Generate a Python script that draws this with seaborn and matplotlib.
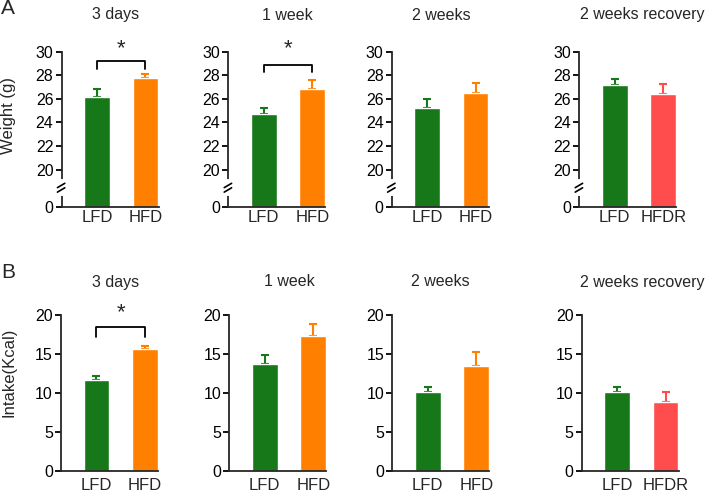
import matplotlib.pyplot as plt
import seaborn as sns
import numpy as np

# ---- data ----
periods = ['3 days', '1 week', '2 weeks', '2 weeks recovery']
groups = [['LFD', 'HFD'], ['LFD', 'HFD'], ['LFD', 'HFD'], ['LFD', 'HFDR']]

weight_mean = [[26.2, 27.8], [24.7, 26.8], [25.2, 26.5], [27.2, 26.4]]
weight_sem = [[0.6, 0.3], [0.55, 0.8], [0.75, 0.85], [0.5, 0.85]]

intake_mean = [[11.7, 15.6], [13.7, 17.3], [10.1, 13.4], [10.15, 8.8]]
intake_sem = [[0.5, 0.4], [1.1, 1.6], [0.65, 1.8], [0.6, 1.35]]

weight_ticks = [0, 20, 22, 24, 26, 28, 30]
intake_ticks = [0, 5, 10, 15, 20]

# significance brackets: (panel index, bracket y, leg bottom y)
weight_sig = [(0, 29.25, 28.5), (1, 28.9, 28.25)]
intake_sig = [(0, 18.4, 17.2)]

colors = {'LFD': '#17781a', 'HFD': '#ff8000', 'HFDR': '#ff4d4d'}

sns.set_style('ticks')
plt.rcParams['font.family'] = ['Liberation Sans', 'DejaVu Sans']
plt.rcParams['axes.linewidth'] = 1.3

W, H = 707, 492
fig = plt.figure(figsize=(W / 100, H / 100), dpi=100)

# broken axis: 0-20 squeezed, 20-30 linear
k = 0.157


def fwd(y):
    y = np.asarray(y, dtype=float)
    return np.where(y < 20, y * k, 20 * k + (y - 20))


def inv(t):
    t = np.asarray(t, dtype=float)
    return np.where(t < 20 * k, t / k, t - 20 * k + 20)


def px_axes(left, top, bottom, width=97):
    return fig.add_axes([left / W, 1 - bottom / H, width / W, (bottom - top) / H])


def draw_panel(ax, labels, means, sems):
    sns.barplot(x=labels, y=means, hue=labels, palette=colors, width=0.53, saturation=1,
                legend=False, ax=ax, zorder=2)
    for i, lab in enumerate(labels):
        ax.errorbar(i, means[i], yerr=[[0], [sems[i]]], color=colors[lab], capsize=2.6,
                    elinewidth=1.5, capthick=1.5, zorder=1)
    ax.set_xlim(-0.73, 1.27)
    sns.despine(ax=ax)
    ax.tick_params(axis='y', length=4.3, width=1.3, pad=1.5, labelsize=11.5, colors='black')
    ax.tick_params(axis='x', length=0, labelsize=12)
    ax.set_xlabel('')
    ax.set_ylabel('')


def bracket(ax, y, ybot):
    ax.plot([0, 0, 1, 1], [ybot, y, y, ybot], color='black', lw=1.3, clip_on=False)


top_lefts = [61.5, 228.3, 391.7, 579.3]
bot_lefts = [61, 229.3, 392.3, 581.7]
top_title_x = [115.5, 287, 441, 642]
bot_title_x = [115.5, 289.7, 440.8, 642]

# ---- row A: weight ----
for i in range(4):
    ax = px_axes(top_lefts[i], 51.7, 206.7)
    draw_panel(ax, groups[i], weight_mean[i], weight_sem[i])
    ax.set_yscale('function', functions=(fwd, inv))
    ax.set_ylim(0, 30)
    ax.set_yticks(weight_ticks)
    ax.set_yticklabels([str(t) for t in weight_ticks])
    ax.tick_params(axis='x', pad=2.5)
    # axis break marks
    ax.plot([0, 0], [0.08, 0.165], color='white', lw=3, transform=ax.transAxes,
            clip_on=False, zorder=5)
    for yc in [0.108, 0.137]:
        ax.plot([-0.042, 0.034], [yc - 0.014, yc + 0.014], color='black', lw=1.2,
                transform=ax.transAxes, clip_on=False, zorder=6)
    fig.text(top_title_x[i] / W, 1 - 15 / H, periods[i], ha='center', va='center', fontsize=11.5)

for i, y, ybot in weight_sig:
    ax = fig.axes[i]
    bracket(ax, y, ybot)
    ax.text(0.5, 29.4, '*', ha='center', va='bottom', fontsize=16, clip_on=False)

# ---- row B: intake ----
for i in range(4):
    ax = px_axes(bot_lefts[i], 315, 470.7)
    draw_panel(ax, groups[i], intake_mean[i], intake_sem[i])
    ax.set_ylim(0, 20)
    ax.set_yticks(intake_ticks)
    ax.tick_params(axis='x', pad=5.5)
    fig.text(bot_title_x[i] / W, 1 - 282 / H, periods[i], ha='center', va='center', fontsize=11.5)

for i, y, ybot in intake_sig:
    ax = fig.axes[4 + i]
    bracket(ax, y, ybot)
    ax.text(0.5, 18.9, '*', ha='center', va='bottom', fontsize=16, clip_on=False)

fig.text(9 / W, 1 - 115 / H, 'Weight (g)', rotation=90, ha='center', va='center', fontsize=12)
fig.text(9 / W, 1 - 372 / H, 'Intake(Kcal)', rotation=90, ha='center', va='center', fontsize=12)
fig.text(8 / W, 1 - 9 / H, 'A', ha='center', va='center', fontsize=15)
fig.text(8 / W, 1 - 273 / H, 'B', ha='center', va='center', fontsize=15)

fig.savefig('out.png', dpi=100)
